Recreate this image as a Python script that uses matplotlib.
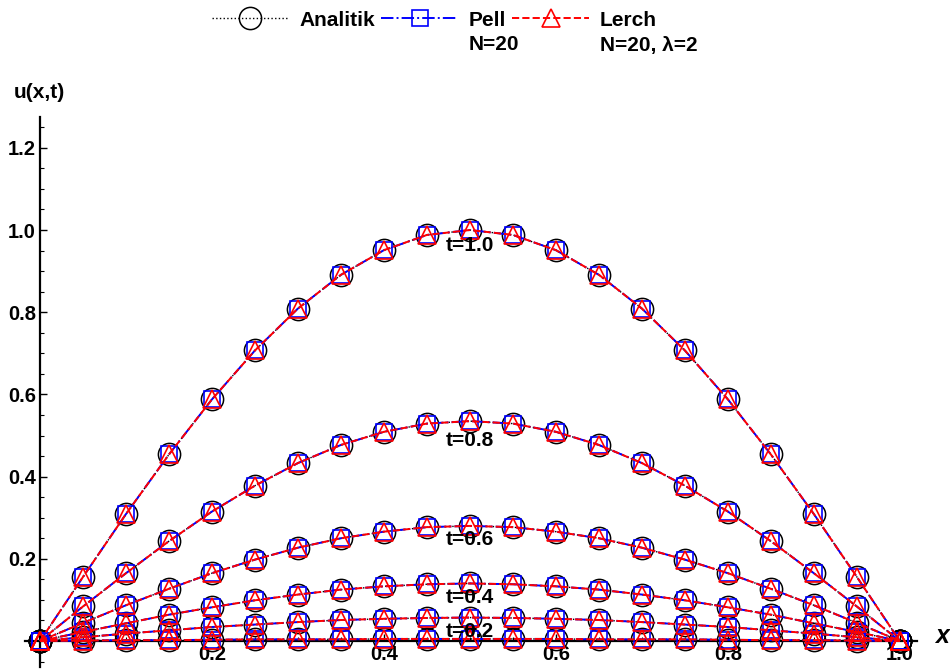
import matplotlib
matplotlib.use('Agg')
import matplotlib.pyplot as plt
from matplotlib.ticker import MultipleLocator, FixedLocator
import numpy as np

plt.rcParams['font.family'] = ['Liberation Sans', 'DejaVu Sans']
plt.rcParams['font.weight'] = 'bold'

# grid points and curve values (symmetric about x=0.5)
x = np.round(np.arange(21) * 0.05, 2)
half_t10 = [0, 0.156, 0.309, 0.454, 0.588, 0.707, 0.809, 0.891, 0.951, 0.988, 1.000]
half_t08 = [0, 0.084, 0.165, 0.243, 0.315, 0.378, 0.433, 0.477, 0.509, 0.529, 0.535]
half_t06 = [0, 0.044, 0.087, 0.127, 0.165, 0.198, 0.227, 0.250, 0.266, 0.277, 0.280]
half_t04 = [0, 0.022, 0.043, 0.064, 0.082, 0.099, 0.113, 0.125, 0.133, 0.138, 0.140]
half_t02 = [0, 0.009, 0.018, 0.026, 0.034, 0.040, 0.046, 0.051, 0.054, 0.056, 0.057]
half_t00 = [0, 0.001, 0.002, 0.002, 0.003, 0.004, 0.004, 0.004, 0.005, 0.005, 0.005]
curves = [half_t10, half_t08, half_t06, half_t04, half_t02, half_t00]
curve_labels = ['t=1.0', 't=0.8', 't=0.6', 't=0.4', 't=0.2']
label_y = [0.963, 0.489, 0.246, 0.107, 0.022]

def full(h):
    return np.array(h + h[-2::-1])

fig = plt.figure(figsize=(9.5, 6.7), dpi=100)
ax = fig.add_axes([25 / 950, 3 / 670, 892 / 950, 550 / 670])

styles = [
    dict(color='black', ls=':', lw=1.0, marker='o', ms=16, mec='black', mew=1.1),
    dict(color='blue', ls='-.', lw=1.4, marker='s', ms=11.5, mec='blue', mew=1.2),
    dict(color='red', ls='--', lw=1.4, marker='^', ms=13, mec='red', mew=1.2),
]
names = ['Analitik', 'Pell', 'Lerch']
handles = []
for st, name in zip(styles, names):
    for i, h in enumerate(curves):
        ln, = ax.plot(x, full(h), mfc='none', clip_on=False, zorder=3, **st)
        if i == 0:
            handles.append(ln)

for lab, yy in zip(curve_labels, label_y):
    ax.text(0.5, yy, lab, ha='center', va='center', fontsize=15, fontweight='bold', zorder=5)

ax.set_xlim(-0.0175, 1.02)
ax.set_ylim(-0.0633, 1.275)
for s in ['top', 'right']:
    ax.spines[s].set_visible(False)
for s in ['left', 'bottom']:
    ax.spines[s].set_position(('data', 0))
    ax.spines[s].set_linewidth(1.6)
ax.xaxis.set_major_locator(FixedLocator([0.2, 0.4, 0.6, 0.8, 1.0]))
ax.yaxis.set_major_locator(FixedLocator([0.2, 0.4, 0.6, 0.8, 1.0, 1.2]))
ax.xaxis.set_minor_locator(MultipleLocator(0.05))
ax.yaxis.set_minor_locator(MultipleLocator(0.05))
ax.xaxis.set_major_formatter(plt.FuncFormatter(lambda v, p: f'{v:.1f}'))
ax.yaxis.set_major_formatter(plt.FuncFormatter(lambda v, p: f'{v:.1f}'))
ax.tick_params(which='major', direction='in', length=5, width=1, labelsize=14.5, pad=3)
ax.tick_params(which='minor', direction='in', length=3, width=0.8)
for lbl in ax.get_xticklabels() + ax.get_yticklabels():
    lbl.set_fontweight('bold')
ax.patch.set_alpha(0)

fig.text(14 / 950, 1 - 92 / 670, 'u(x,t)', ha='left', va='center', fontsize=15, fontweight='bold')
fig.text(935 / 950, 1 - 636 / 670, 'x', ha='left', va='center', fontsize=18,
         fontweight='bold', fontstyle='italic')

leg = fig.legend(handles, names, loc='upper center', bbox_to_anchor=(0.457, 1.012), ncol=3,
                 frameon=False, fontsize=15, handlelength=3.7, handletextpad=0.5,
                 columnspacing=0.3, numpoints=1)
for t in leg.get_texts():
    t.set_fontweight('bold')

fig.canvas.draw()
r = fig.canvas.get_renderer()
sub = {'Pell': 'N=20', 'Lerch': 'N=20, λ=2'}
for t in leg.get_texts():
    if t.get_text() in sub:
        bb = t.get_window_extent(r)
        fig.text(bb.x0 / 950, 1 - 45 / 670, sub[t.get_text()], ha='left', va='center',
                 fontsize=15, fontweight='bold')

fig.savefig('out.png', dpi=100)
